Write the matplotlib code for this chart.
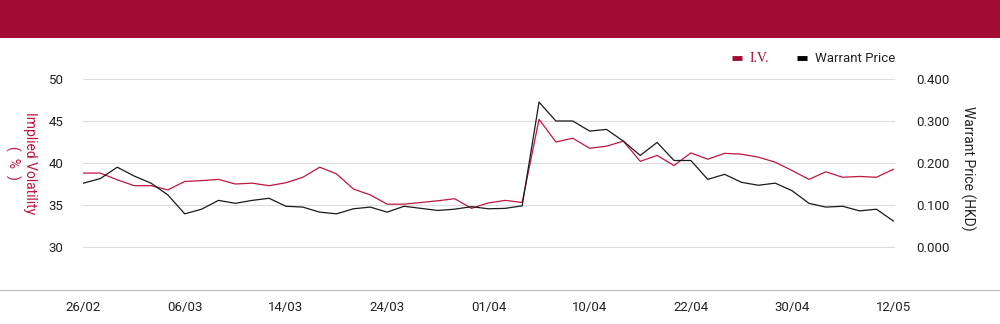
import matplotlib
matplotlib.use('Agg')
import matplotlib.pyplot as plt
from matplotlib.lines import Line2D
from matplotlib.patches import Rectangle

plt.rcParams['font.family'] = ['Roboto', 'DejaVu Sans']

# 2025 HK trading days, 26/02 -> 12/05
dates = ['26/02', '27/02', '28/02', '03/03', '04/03', '05/03', '06/03',
         '07/03', '10/03', '11/03', '12/03', '13/03', '14/03',
         '17/03', '18/03', '19/03', '20/03', '21/03', '24/03',
         '25/03', '26/03', '27/03', '28/03', '31/03', '01/04',
         '02/04', '03/04', '07/04', '08/04', '09/04', '10/04',
         '11/04', '14/04', '15/04', '16/04', '17/04', '22/04',
         '23/04', '24/04', '25/04', '28/04', '29/04', '30/04',
         '02/05', '06/05', '07/05', '08/05', '09/05', '12/05']

iv = [38.8, 38.8, 38.0, 37.3, 37.3, 36.8, 37.8, 37.9, 38.05, 37.5,
      37.6, 37.3, 37.65, 38.3, 39.5, 38.7, 36.9, 36.2, 35.1, 35.1,
      35.3, 35.5, 35.75, 34.6, 35.25, 35.55, 35.3, 45.2, 42.5, 42.95,
      41.75, 42.0, 42.6, 40.2, 40.9, 39.7, 41.2, 40.45, 41.15, 41.05,
      40.7, 40.1, 39.1, 38.05, 38.95, 38.3, 38.4, 38.3, 39.25]

price = [0.152, 0.163, 0.190, 0.169, 0.152, 0.124, 0.079, 0.090, 0.111, 0.104,
         0.111, 0.116, 0.097, 0.095, 0.083, 0.079, 0.091, 0.095, 0.083, 0.097,
         0.092, 0.087, 0.090, 0.096, 0.091, 0.092, 0.098, 0.345, 0.300, 0.300,
         0.276, 0.280, 0.252, 0.218, 0.249, 0.206, 0.206, 0.161, 0.173, 0.154,
         0.147, 0.152, 0.134, 0.104, 0.095, 0.097, 0.086, 0.090, 0.062]

iv_ticks = [30, 35, 40, 45, 50]
price_ticks = [0.0, 0.1, 0.2, 0.3, 0.4]

RED = '#a30d33'
LINE_RED = '#c0163f'
GRID = '#dcdcdc'
TXT = '#222222'

fig = plt.figure(figsize=(10, 3.24), dpi=100)

# header band
fig.patches.append(Rectangle((0, 1 - 38 / 324), 1, 38 / 324, transform=fig.transFigure,
                             facecolor=RED, edgecolor='none', zorder=0))
# bottom rule across the whole width
fig.add_artist(Line2D([0, 1], [1 - 289.5 / 324] * 2, transform=fig.transFigure,
                      color='#c4c4c4', lw=1))

ax = fig.add_axes([83 / 1000, 1 - 289 / 324, (895 - 83) / 1000, (289 - 79) / 324])
ax2 = ax.twinx()

x = list(range(len(dates)))
ax.plot(x, iv, color=LINE_RED, lw=0.9, label='I.V.')
ax2.plot(x, price, color='#1a1a1a', lw=0.9, label='Warrant Price')

ax.set_ylim(25, 50)
ax2.set_ylim(-0.1, 0.4)
ax.set_xlim(-0.03, 48.1)
ax.set_yticks(iv_ticks)
ax2.set_yticks(price_ticks)
ax2.set_yticklabels([f'{v:.3f}' for v in price_ticks])
ax.set_xticks(x[::6])
ax.set_xticklabels(dates[::6])

ax.grid(axis='y', color=GRID, lw=0.8)
ax.set_axisbelow(True)
for a in (ax, ax2):
    for s in a.spines.values():
        s.set_visible(False)
ax.tick_params(axis='y', length=0, pad=14, labelsize=9.5, labelcolor=TXT)
ax.tick_params(axis='x', length=0, pad=9, labelsize=9.5, labelcolor=TXT)
ax2.tick_params(axis='y', length=0, pad=15, labelsize=9.5, labelcolor=TXT)

fig.text(0.021, 1 - 163 / 324, 'Implied Volatility\n(  %  )', rotation=-90,
         ha='center', va='center', color=LINE_RED, fontsize=10, linespacing=1.2)
fig.text(0.968, 1 - 168 / 324, 'Warrant Price (HKD)', rotation=-90,
         ha='center', va='center', color=TXT, fontsize=10)

handles = [Line2D([], [], color=RED, lw=3.5, solid_capstyle='butt'),
           Line2D([], [], color='black', lw=3.5, solid_capstyle='butt')]
leg = fig.legend(handles, ['I.V.', 'Warrant Price'], ncol=2, frameon=False,
                 loc='center right', bbox_to_anchor=(0.907, 1 - 59 / 324),
                 handlelength=0.75, handletextpad=0.6, columnspacing=2.1, fontsize=9.5)
leg.get_texts()[0].set_color(RED)
leg.get_texts()[0].set_fontfamily(['Liberation Serif', 'DejaVu Serif'])
leg.get_texts()[0].set_fontsize(10)
leg.get_texts()[1].set_color(TXT)

fig.savefig('out.png', dpi=100)
